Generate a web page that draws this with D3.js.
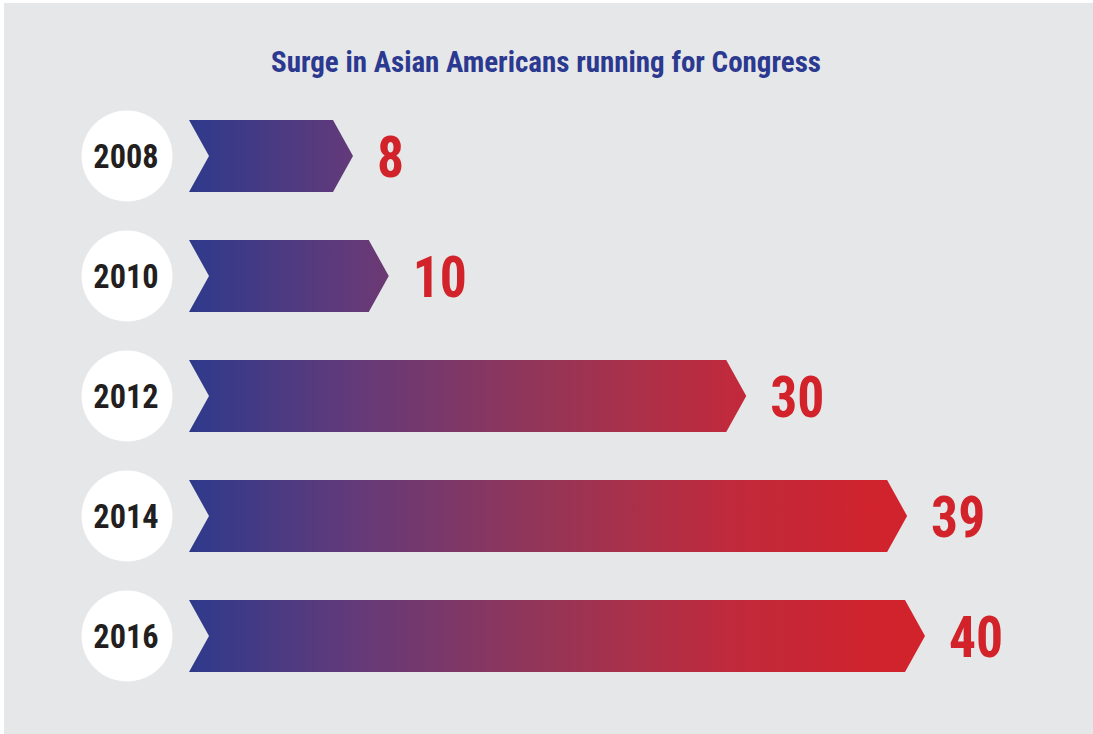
<!DOCTYPE html>
<html>
<head>
<meta charset="utf-8">
<script src="https://cdn.jsdelivr.net/npm/d3@7"></script>
<style>
  body { margin: 0; background: #fff; }
  svg text { font-family: "Roboto Condensed", "Liberation Sans Narrow", Roboto, sans-serif; font-stretch: condensed; font-weight: 700; }
</style>
</head>
<body>
<div id="chart"></div>
<script>
const years = ["2008", "2010", "2012", "2014", "2016"];
const counts = [8, 10, 30, 39, 40];
const title = "Surge in Asian Americans running for Congress";

const width = 1093, height = 734;
const barLeft = 189, notch = 20, barH = 72;

const svg = d3.select("#chart").append("svg")
  .attr("width", width)
  .attr("height", height);

svg.append("rect")
  .attr("x", 4).attr("y", 3)
  .attr("width", width - 4).attr("height", height - 3)
  .attr("fill", "#e6e7e8");

// gradient runs across the whole plot, so short bars stay purple
const grad = svg.append("defs").append("linearGradient")
  .attr("id", "barGrad")
  .attr("gradientUnits", "userSpaceOnUse")
  .attr("x1", barLeft).attr("x2", 925).attr("y1", 0).attr("y2", 0);
[[0, "#2e3a8c"], [0.22, "#623a7a"], [0.49, "#963556"], [0.735, "#c02a3c"], [0.94, "#d0232d"], [1, "#d2232b"]]
  .forEach(([o, c]) => grad.append("stop").attr("offset", o).attr("stop-color", c));

const x = d3.scaleLinear().domain([0, 40]).range([210, 925]);
const y = d3.scaleBand().domain(years).range([96, 696]);

svg.append("text")
  .attr("x", 546).attr("y", 72)
  .attr("text-anchor", "middle")
  .attr("fill", "#2b3990")
  .style("font-size", "29px")
  .attr("textLength", 550)
  .text(title);

const data = years.map((yr, i) => ({year: yr, n: counts[i]}));

const row = svg.selectAll("g.row").data(data).join("g")
  .attr("class", "row")
  .attr("transform", d => `translate(0,${y(d.year) + y.bandwidth() / 2})`);

row.append("circle")
  .attr("cx", 127).attr("cy", 0).attr("r", 45.5)
  .attr("fill", "#fff");

row.append("text")
  .attr("x", 126).attr("y", 0)
  .attr("dy", "0.35em")
  .attr("text-anchor", "middle")
  .attr("fill", "#231f20")
  .style("font-size", "34px")
  .attr("transform", "translate(126,0) scale(0.95,1) translate(-126,0)")
  .text(d => d.year);

row.append("path")
  .attr("fill", "url(#barGrad)")
  .attr("d", d => {
    const tip = x(d.n), h = barH / 2;
    return `M${barLeft},${-h} L${tip - notch},${-h} L${tip},0 L${tip - notch},${h} L${barLeft},${h} L${barLeft + notch},0 Z`;
  });

const lx = d => x(d.n) + 24;
row.append("text")
  .attr("x", lx).attr("y", 0)
  .attr("dy", "0.36em")
  .attr("fill", "#d2232a")
  .style("font-size", "57px")
  .attr("transform", d => `translate(${lx(d)},0) scale(0.94,1) translate(${-lx(d)},0)`)
  .text(d => d.n);
</script>
</body>
</html>
